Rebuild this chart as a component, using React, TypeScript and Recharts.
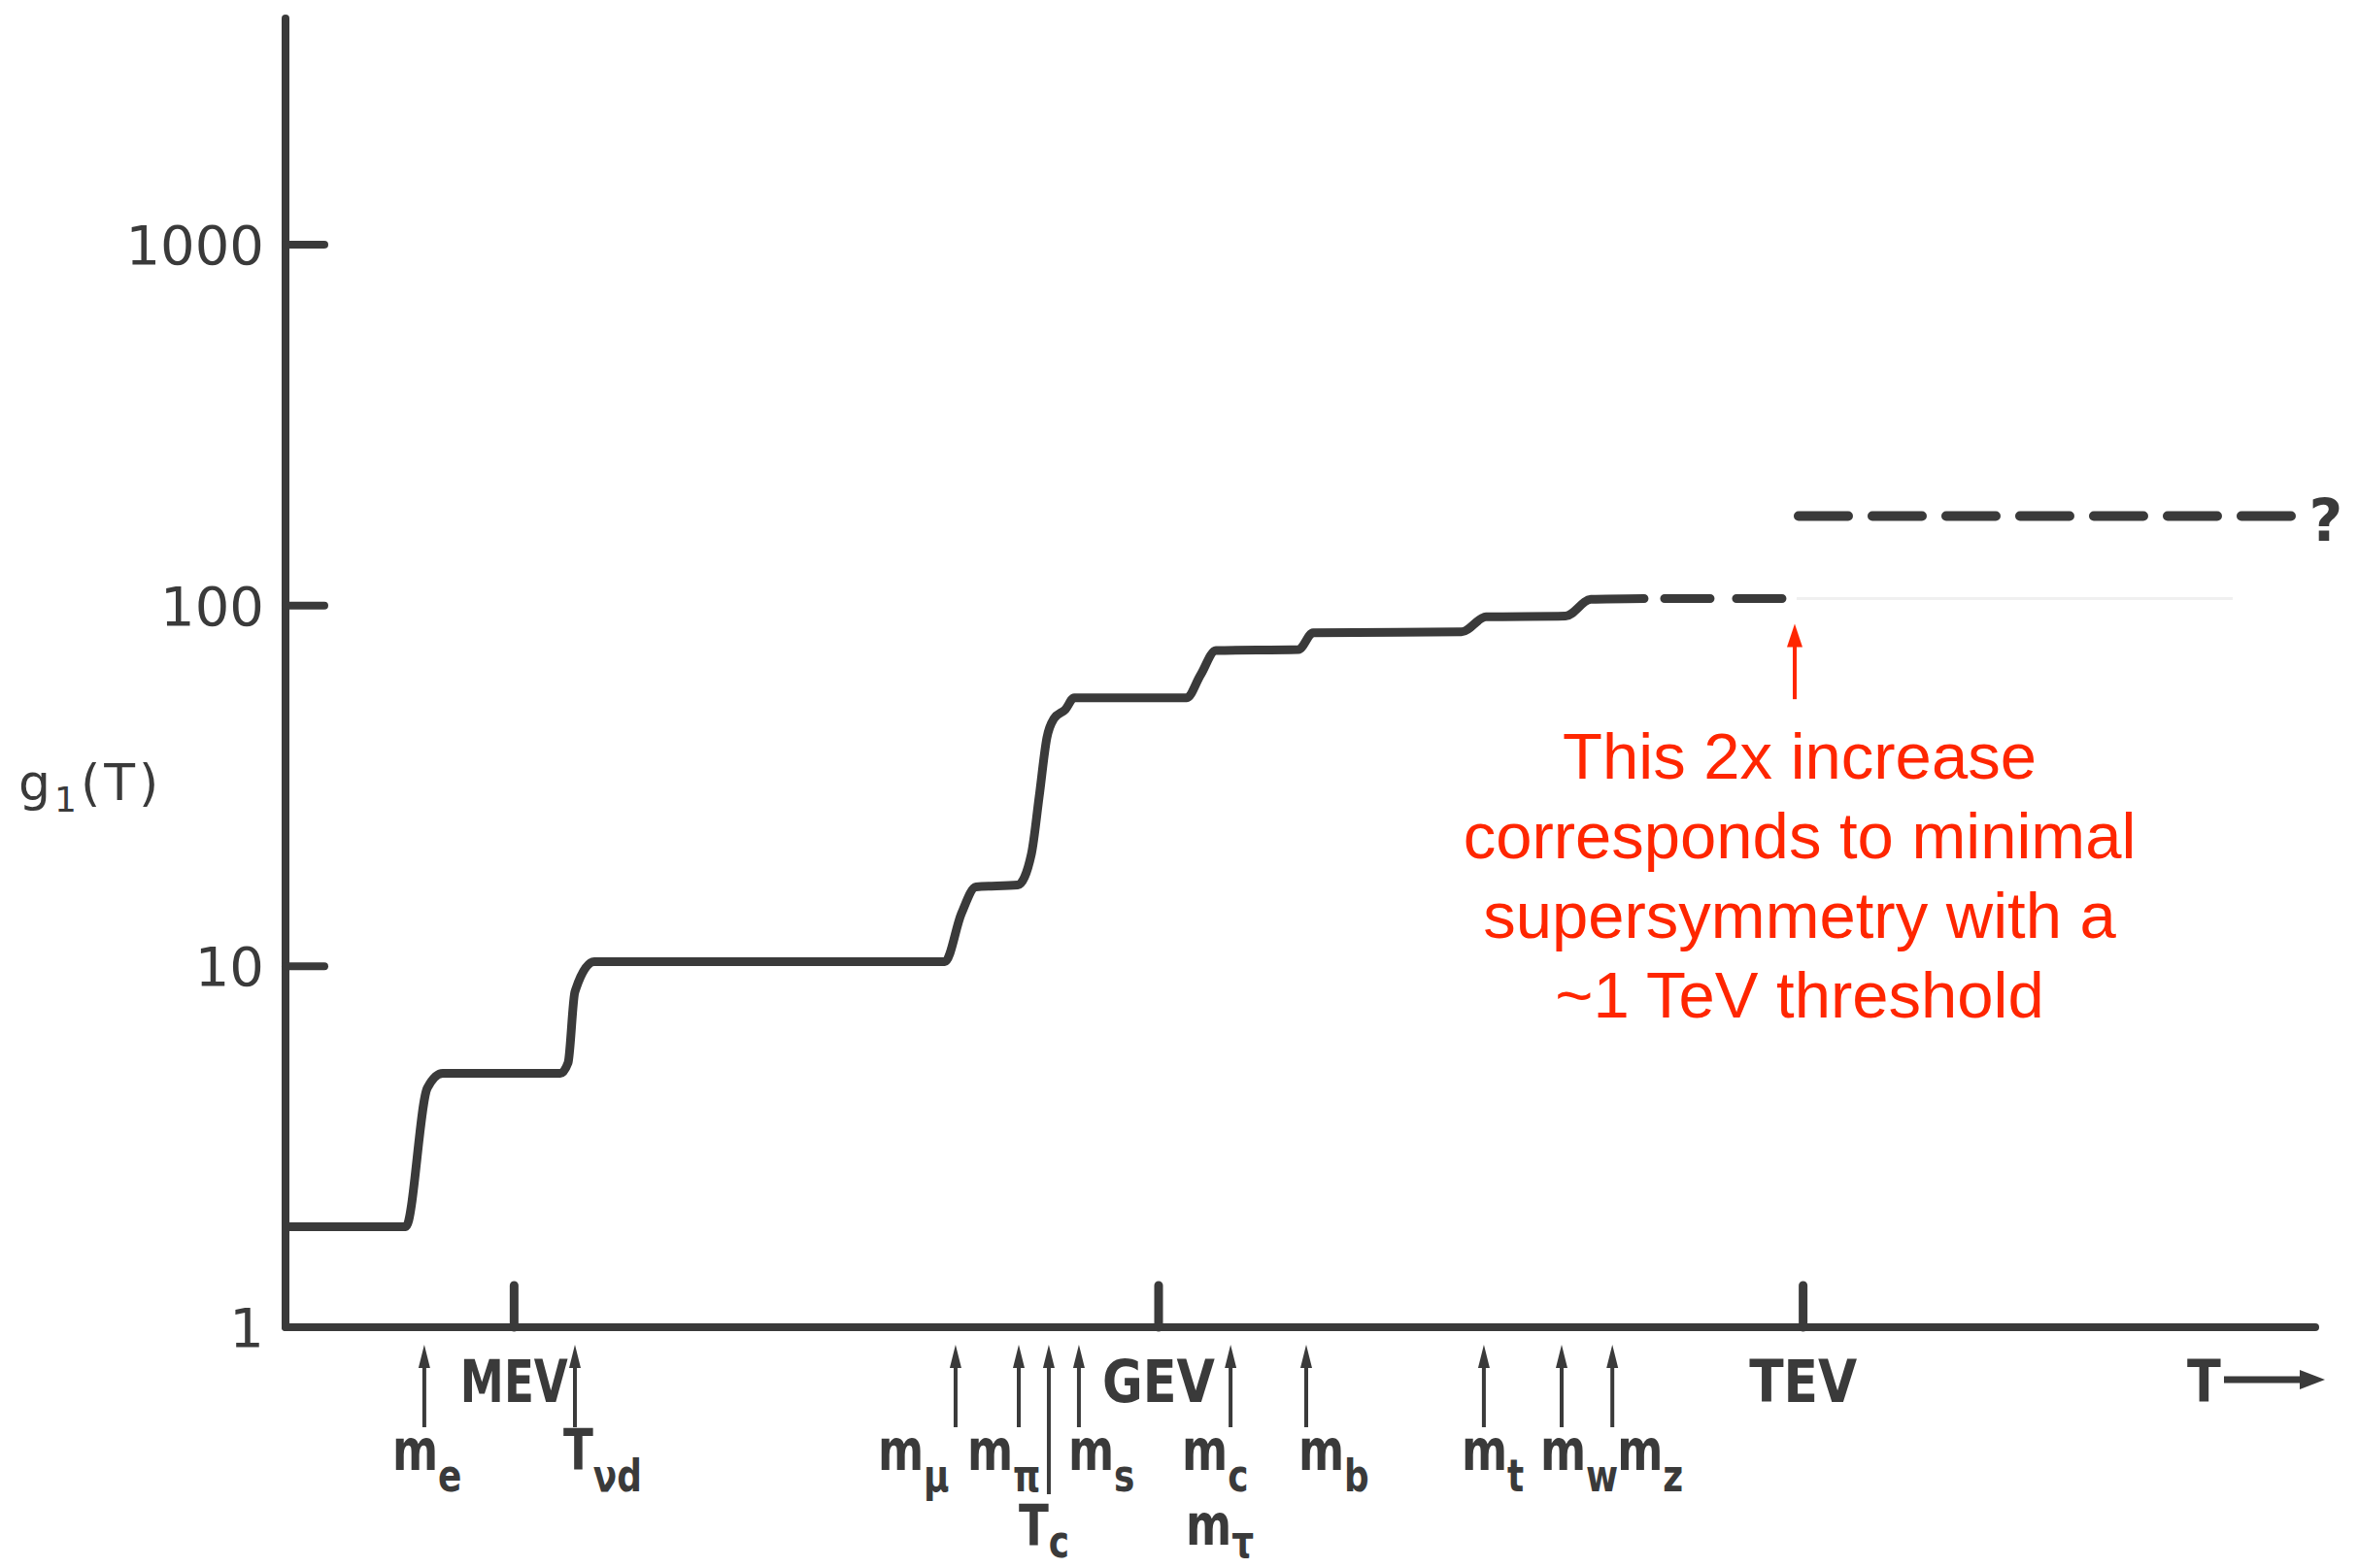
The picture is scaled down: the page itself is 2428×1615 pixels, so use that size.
import React from 'react';
import { ComposedChart, Line, XAxis, YAxis, ReferenceLine } from 'recharts';

// x values are log10(T / GeV); y values are g(T)
const solidLogT = [-4.064, -3.504, -3.404, -3.332, -2.785, -2.749, -2.717, -2.627, -0.995, -0.918, -0.85, -0.656, -0.592, -0.556, -0.52, -0.488, -0.434, -0.393, 0.131, 0.194, 0.267, 0.651, 0.719, 1.41, 1.524, 1.894, 2.012, 2.26];
const solidG = [1.9, 1.9, 4.6, 5.05, 5.05, 5.4, 8.5, 10.3, 10.3, 14, 16.6, 16.8, 20.5, 29.5, 43, 48.5, 51.5, 55.5, 55.5, 64, 75, 75.5, 84, 84.5, 93, 93.5, 104, 104.5];

const lowerDashLogT = [2.355, 2.948];
const lowerDashG = [104.5, 104.5];

const upperDashLogT = [2.979, 5.298];
const upperDashG = [177, 177];

const ghostLogT = [2.97, 5.0];
const ghostG = [104.5, 104.5];

const yTicks = [1, 10, 100, 1000];
const decadeTicks = [-3, 0, 3];
const decadeLabels = ['MEV', 'GEV', 'TEV'];

const markerLogT = [-3.418, -2.717, -0.945, -0.651, -0.511, -0.371, 0.335, 0.687, 1.514, 1.876, 2.112];
const markerBase = ['m', 'T', 'm', 'm', 'T', 'm', 'm', 'm', 'm', 'm', 'm'];
const markerSub = ['e', 'νd', 'μ', 'π', 'c', 's', 'c', 'b', 't', 'w', 'z'];
const markerExtraBase = ['', '', '', '', '', '', 'm', '', '', '', ''];
const markerExtraSub = ['', '', '', '', '', '', 'τ', '', '', '', ''];

const noteArrowLogT = 2.961;
const noteArrowG = [55, 89];
const noteLines = ['This 2x increase', 'corresponds to minimal', 'supersymmetry with a', '~1 TeV threshold'];

// ---- layout / style (not data) ----
const W = 2428;
const H = 1615;
const INK = '#3a3a3a';
const RED = '#ff2600';
const labelDx = [-33, -12, -80, -53, -31, -11, -50, -8, -23, -22, 5];
const extraDx = [0, 0, 0, 0, 0, 0, -46, 0, 0, 0, 0];
const longStem = [false, false, false, false, true, false, false, false, false, false, false];
const decadeLabelWidths = [111, 116, 111];

const solidData = solidLogT.map((x, i) => ({ x, g: solidG[i] }));
const lowerData = lowerDashLogT.map((x, i) => ({ x, g: lowerDashG[i] }));
const upperData = upperDashLogT.map((x, i) => ({ x, g: upperDashG[i] }));
const ghostData = ghostLogT.map((x, i) => ({ x, g: ghostG[i] }));
const allXTicks = [...decadeTicks, ...markerLogT];

const LETTER_FONT = '"DejaVu Sans", "Liberation Sans", sans-serif';

const SubLabel = ({ x, y, base, sub, subDy = 22 }: { x: number; y: number; base: string; sub: string; subDy?: number }) => (
  <g transform={`translate(${x},${y}) scale(0.78,1)`}>
    <text x={0} y={0} fontFamily={LETTER_FONT} fontWeight="bold" fontSize={58} fill={INK}>
      {base}
      <tspan dy={subDy} fontSize={46}>{sub}</tspan>
    </text>
  </g>
);

const YTick = (props: any) => {
  const { x, y, payload } = props;
  const v = payload.value;
  return (
    <g>
      {v !== 1 && (
        <line x1={x} y1={y} x2={x + 40} y2={y} stroke={INK} strokeWidth={8} strokeLinecap="round" />
      )}
      <text x={x - 22} y={y} dy={20} textAnchor="end" fontFamily={LETTER_FONT} fontSize={56} fill={INK}>
        {v}
      </text>
    </g>
  );
};

const XTick = (props: any) => {
  const { x, y, payload } = props;
  const v = payload.value;
  const di = decadeTicks.indexOf(v);
  if (di >= 0) {
    return (
      <g>
        <line x1={x} y1={y} x2={x} y2={y - 43} stroke={INK} strokeWidth={9} strokeLinecap="round" />
        <text
          x={x}
          y={y + 77}
          textAnchor="middle"
          fontFamily={LETTER_FONT}
          fontWeight="bold"
          fontSize={60}
          fill={INK}
          textLength={decadeLabelWidths[di]}
          lengthAdjust="spacingAndGlyphs"
        >
          {decadeLabels[di]}
        </text>
      </g>
    );
  }
  const mi = markerLogT.indexOf(v);
  if (mi < 0) return <g />;
  const top = y + 18;
  const bottom = longStem[mi] ? y + 172 : y + 103;
  const rowY = longStem[mi] ? y + 225 : y + 147;
  return (
    <g>
      <line x1={x} y1={top + 14} x2={x} y2={bottom} stroke={INK} strokeWidth={4} />
      <polygon points={`${x},${top} ${x - 6},${top + 24} ${x + 6},${top + 24}`} fill={INK} />
      <SubLabel
        x={x + labelDx[mi]}
        y={rowY}
        base={markerBase[mi]}
        sub={markerSub[mi]}
        subDy={longStem[mi] ? 12 : 22}
      />
      {markerExtraBase[mi] && (
        <SubLabel x={x + extraDx[mi]} y={y + 224} base={markerExtraBase[mi]} sub={markerExtraSub[mi]} subDy={13} />
      )}
    </g>
  );
};

const YAxisTitle = (props: any) => {
  const vb = props.viewBox || { x: 0, y: 19 };
  return (
    <text x={vb.x + 19} y={vb.y + 805} fontFamily={LETTER_FONT} fontSize={52} fill={INK} letterSpacing={4}>
      g
      <tspan dy={12} fontSize={36}>1</tspan>
      <tspan dy={-12}>(T)</tspan>
    </text>
  );
};

const XAxisTitle = (props: any) => {
  const vb = props.viewBox || { x: 294, y: 1367, width: 2090 };
  const tx = vb.x + vb.width - 132;
  const ay = vb.y + 54;
  return (
    <g>
      <g transform={`translate(${tx},${vb.y + 77}) scale(0.85,1)`}>
        <text x={0} y={0} fontFamily={LETTER_FONT} fontWeight="bold" fontSize={60} fill={INK}>T</text>
      </g>
      <line x1={tx + 38} y1={ay} x2={tx + 122} y2={ay} stroke={INK} strokeWidth={7} />
      <polygon points={`${tx + 142},${ay} ${tx + 116},${ay - 10} ${tx + 116},${ay + 10}`} fill={INK} />
    </g>
  );
};

const NoteShape = (props: any) => {
  const { x1, y1, x2, y2 } = props;
  const bottom = Math.max(y1, y2);
  const tip = Math.min(y1, y2);
  const cx = x1 + 5;
  return (
    <g>
      <line x1={x1} y1={bottom} x2={x2} y2={tip + 18} stroke={RED} strokeWidth={4} />
      <polygon points={`${x1},${tip} ${x1 - 8},${tip + 24} ${x1 + 8},${tip + 24}`} fill={RED} />
      {noteLines.map((t, i) => (
        <text
          key={i}
          x={cx}
          y={bottom + 82 + i * 82}
          textAnchor="middle"
          fontFamily='"Liberation Sans", Arial, sans-serif'
          fontSize={67}
          fill={RED}
        >
          {t}
        </text>
      ))}
    </g>
  );
};

const QuestionLabel = (props: any) => {
  const { x, y, index } = props;
  if (index !== upperDashLogT.length - 1) return <g />;
  return (
    <text x={x + 30} y={y + 26} textAnchor="middle" fontFamily={LETTER_FONT} fontWeight="bold" fontSize={60} fill={INK}>
      ?
    </text>
  );
};

export default function App() {
  return (
    <div style={{ position: 'absolute', left: 0, top: 0, width: W, height: H, background: '#ffffff' }}>
      <ComposedChart width={W} height={H} margin={{ top: 19, right: 44, bottom: 0, left: 0 }}>
        <XAxis
          dataKey="x"
          type="number"
          domain={[-4.064, 5.384]}
          allowDataOverflow
          ticks={allXTicks}
          interval={0}
          tick={(p: any) => <XTick {...p} />}
          tickLine={false}
          tickSize={0}
          tickMargin={0}
          height={248}
          axisLine={{ stroke: INK, strokeWidth: 8, strokeLinecap: 'round' }}
          label={(p: any) => <XAxisTitle {...p} />}
        />
        <YAxis
          dataKey="g"
          type="number"
          scale="log"
          domain={[1, 4235]}
          allowDataOverflow
          ticks={yTicks}
          interval={0}
          tick={(p: any) => <YTick {...p} />}
          tickLine={false}
          tickSize={0}
          tickMargin={0}
          width={294}
          axisLine={{ stroke: INK, strokeWidth: 8, strokeLinecap: 'round' }}
          label={(p: any) => <YAxisTitle {...p} />}
        />
        <Line
          data={ghostData}
          dataKey="g"
          type="linear"
          stroke="#f0f0f0"
          strokeWidth={3}
          dot={false}
          activeDot={false}
          isAnimationActive={false}
        />
        <Line
          data={solidData}
          dataKey="g"
          type="monotoneX"
          stroke={INK}
          strokeWidth={9}
          strokeLinecap="round"
          strokeLinejoin="round"
          dot={false}
          activeDot={false}
          isAnimationActive={false}
        />
        <Line
          data={lowerData}
          dataKey="g"
          type="linear"
          stroke={INK}
          strokeWidth={9}
          strokeDasharray="47 27"
          strokeLinecap="round"
          dot={false}
          activeDot={false}
          isAnimationActive={false}
        />
        <Line
          data={upperData}
          dataKey="g"
          type="linear"
          stroke={INK}
          strokeWidth={10}
          strokeDasharray="51 25"
          strokeLinecap="round"
          dot={false}
          activeDot={false}
          isAnimationActive={false}
          label={(p: any) => <QuestionLabel {...p} />}
        />
        <ReferenceLine
          segment={[
            { x: noteArrowLogT, y: noteArrowG[0] },
            { x: noteArrowLogT, y: noteArrowG[1] },
          ]}
          stroke={RED}
          shape={(p: any) => <NoteShape {...p} />}
        />
      </ComposedChart>
    </div>
  );
}
